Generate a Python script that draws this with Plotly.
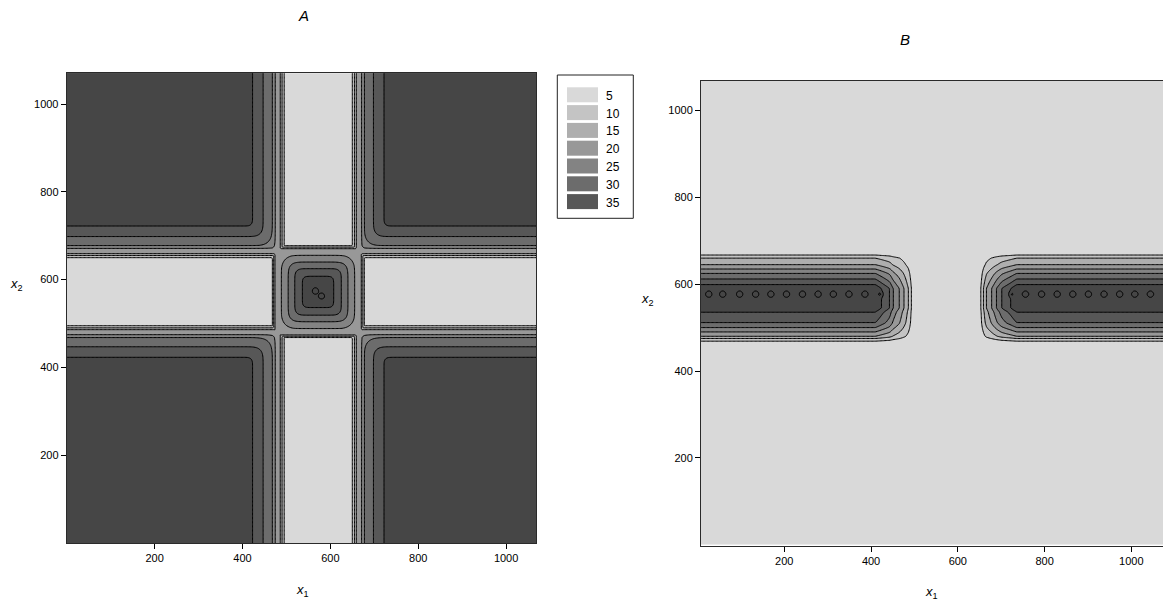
import numpy as np
import plotly.graph_objects as go

W, H = 1163, 602

# ---------------- data ----------------
levels = [5, 10, 15, 20, 25, 30, 35]
legend_colors = ['#d9d9d9', '#c4c4c4', '#aeaeae', '#989898', '#838383', '#6c6c6c', '#575757']
above_color = '#464646'

# Panel A: quadrant profile (value vs position along x1 or x2)
qA_pos = [0, 400, 423, 447, 468, 475, 481, 664, 670, 677, 698, 722, 745, 1080]
qA_val = [39, 39, 35, 30, 25, 20, 0, 0, 20, 25, 30, 35, 39, 39]
# Panel A: grey ridge profile
gA_pos = [0, 463, 468, 474, 478, 484, 486, 490, 495, 500, 645, 650, 655, 659, 661, 667, 671, 677, 682, 1080]
gA_val = [0, 0, 5, 15, 18, 17, 15, 10, 5, 0, 0, 5, 10, 15, 17, 18, 15, 5, 0, 0]
# Panel A: central square profile
cA_pos = [0, 462, 488, 504, 519, 536, 560, 585, 608, 625, 640, 656, 682, 1080]
cA_val = [0, 0, 20, 25, 30, 35, 39, 39, 35, 30, 25, 20, 0, 0]
# Panel A: small local maxima near the centre
peakA_x1 = [566, 580]
peakA_x2 = [574, 562]

# Panel B: band profile across x2
bB_pos = [0, 460, 469, 475, 480, 490, 500, 511, 536, 545, 590, 599, 612, 625, 635, 645, 660, 667, 676, 1080]
bB_val = [0, 0, 5, 10, 15, 20, 25, 30, 35, 39, 39, 35, 30, 25, 20, 15, 10, 5, 0, 0]
# Panel B: band profile along x1 (gap in the middle)
eB_pos = [0, 410, 424, 443, 451, 465, 476, 486, 493, 500, 647, 653, 659, 666, 678, 689, 701, 722, 736, 1080]
eB_val = [39, 39, 35, 30, 25, 20, 15, 10, 5, 0, 0, 5, 10, 15, 20, 25, 30, 35, 39, 39]
# Panel B: small local maxima along the band
peakB_x1 = [26, 58, 97, 134, 169, 205, 242, 278, 313, 349, 386, 421,
            724, 756, 793, 829, 865, 901, 937, 973, 1008, 1044]
peakB_x2 = [577] * len(peakB_x1)

tick_vals = [200, 400, 600, 800, 1000]

# ---------------- surfaces ----------------
grid = np.arange(0, 1081, 3.0)
X1, X2 = np.meshgrid(grid, grid)


def prof(pos, val):
    return np.interp(grid, pos, val)


def peaks(xs, ys, amp=5.0, sig=4.0):
    out = np.zeros_like(X1)
    for a, b in zip(xs, ys):
        out += amp * np.exp(-((X1 - a) ** 2 + (X2 - b) ** 2) / (2 * sig ** 2))
    return out


def square_combine(p, top=39.0, n=4):
    d = top - p
    deficit = (np.add.outer(d ** n, d ** n)) ** (1.0 / n)
    return top - deficit


qa, ga, ca = prof(qA_pos, qA_val), prof(gA_pos, gA_val), prof(cA_pos, cA_val)
ZqA = square_combine(qa)
ZgA = np.maximum.outer(ga, ga)
ZcA = square_combine(ca)
ZA = np.maximum(np.maximum(ZqA, ZgA), ZcA)
ZA = np.maximum(ZA, 0) + peaks(peakA_x1, peakA_x2)

bb, ee = prof(bB_pos, bB_val), prof(eB_pos, eB_val)
ZB = np.outer(bb, ee) / 39.0 + peaks(peakB_x1, peakB_x2)

colors9 = legend_colors + [above_color, above_color]
cscale = [[i / 8.0, c] for i, c in enumerate(colors9)]

contours = dict(start=5, end=40, size=5, coloring='fill', showlines=True)

fig = go.Figure()
fig.add_trace(go.Contour(x=grid, y=grid, z=ZA, contours=contours, colorscale=cscale,
                         line=dict(color='black', width=1, smoothing=0.8),
                         showscale=False, hoverinfo='skip', xaxis='x', yaxis='y'))
fig.add_trace(go.Contour(x=grid, y=grid, z=ZB, contours=contours, colorscale=cscale,
                         line=dict(color='black', width=1, smoothing=0.8),
                         showscale=False, hoverinfo='skip', xaxis='x2', yaxis='y2'))

FONT = 'Liberation Sans, Arial, sans-serif'


def px(x):
    return x / W


def py(y):
    return 1 - y / H


axis_common = dict(showgrid=False, zeroline=False, showline=True, mirror=True,
                   linecolor='#2a2a2a', linewidth=1, ticks='outside', ticklen=5,
                   tickcolor='black', tickvals=tick_vals,
                   tickfont=dict(family=FONT, size=11, color='black'))

fig.update_layout(
    width=W, height=H, margin=dict(l=0, r=0, t=0, b=0),
    paper_bgcolor='white', plot_bgcolor='white', showlegend=False,
    xaxis=dict(domain=[px(66.7), px(536)], range=[0, 1068], anchor='y', **axis_common),
    yaxis=dict(domain=[py(543), py(73.3)], range=[0, 1070], anchor='x', **axis_common),
    xaxis2=dict(domain=[px(701), px(1163)], range=[8, 1073], anchor='y2', **axis_common),
    yaxis2=dict(domain=[py(546), py(81)], range=[-3, 1068], anchor='x2', **axis_common),
)

ann = []
for (xx, yy, t, sz) in [(303, 16, '<i>A</i>', 15), (905, 39, '<i>B</i>', 15),
                        (302, 590, '<i>x</i><sub>1</sub>', 13), (16, 284, '<i>x</i><sub>2</sub>', 13),
                        (931, 592, '<i>x</i><sub>1</sub>', 13), (647, 300, '<i>x</i><sub>2</sub>', 13)]:
    ann.append(dict(x=px(xx), y=py(yy), text=t, showarrow=False, xref='paper', yref='paper',
                    xanchor='center', yanchor='middle',
                    font=dict(family=FONT, size=sz, color='black')))

shapes = [dict(type='rect', xref='paper', yref='paper', x0=px(557.3), x1=px(633.3),
               y0=py(218.3), y1=py(75), line=dict(color='#222', width=1), fillcolor='white', layer='above')]
row_top = 87.3
pitch = 17.8
for i, (lv, col) in enumerate(zip(levels, legend_colors)):
    y0 = row_top + i * pitch
    shapes.append(dict(type='rect', xref='paper', yref='paper', x0=px(567), x1=px(598),
                       y0=py(y0 + 15), y1=py(y0), line=dict(width=0), fillcolor=col, layer='above'))
    ann.append(dict(x=px(604), y=py(y0 + 8.5), text=str(lv), showarrow=False, xref='paper', yref='paper',
                    xanchor='left', yanchor='middle', font=dict(family=FONT, size=12, color='black')))

fig.update_layout(annotations=ann, shapes=shapes)

fig.write_html("out.html", config={'displayModeBar': False},
               post_script="document.body.style.margin='0';")
